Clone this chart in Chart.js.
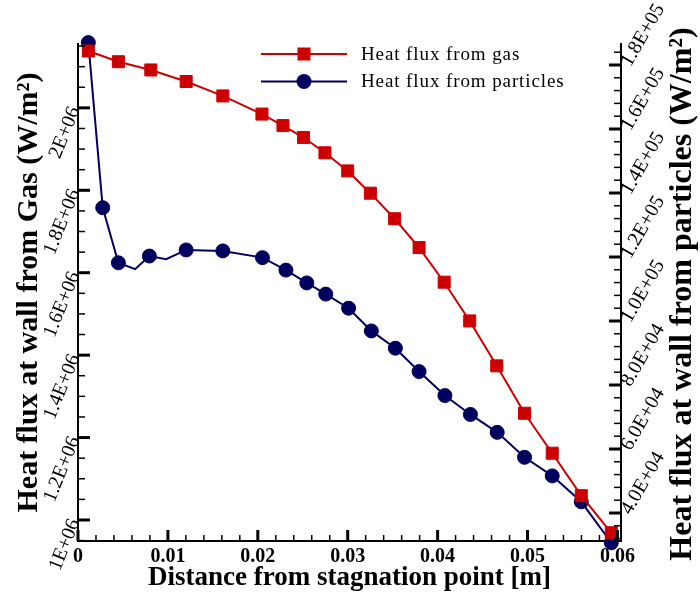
<!DOCTYPE html>
<html><head><meta charset="utf-8">
<script src="https://cdn.jsdelivr.net/npm/chart.js@4.4.1/dist/chart.umd.min.js"></script>
<style>html,body{margin:0;padding:0;background:#fff}#wrap{width:700px;height:597px;position:relative}</style>
</head><body><div id="wrap"><canvas id="c" width="700" height="597"></canvas></div>
<script>
// ---- data ----
const gasX = [0.00115,0.00449,0.0081,0.01203,0.01611,0.02046,0.0228,0.02509,0.02747,0.03,0.03252,0.03522,0.03794,0.04073,0.04357,0.04658,0.04967,0.05275,0.05598,0.05932];
const gasFlux = [2138000,2112000,2092000,2064000,2029000,1985000,1957000,1928000,1891000,1847000,1793000,1731000,1661000,1577000,1483000,1374000,1259000,1162000,1059000,969000];
const partX = [0.00115,0.00275,0.00449,0.00635,0.00794,0.0098,0.01203,0.01611,0.02052,0.02313,0.02545,0.02756,0.0301,0.03263,0.0353,0.03794,0.04081,0.04365,0.04663,0.04967,0.05275,0.05598,0.05932];
const partFlux = [187000,135400,118200,116200,120300,119300,122200,121900,119800,115900,111900,108400,104000,96900,91500,84200,76700,70800,65200,57400,51600,43500,30700];
const partUnmarked = [3,5]; // line vertices drawn without a symbol
const xTicks = [0,0.01,0.02,0.03,0.04,0.05,0.06];
const xTickLabels = ['0','0.01','0.02','0.03','0.04','0.05','0.06'];
const leftTicks = [1000000,1200000,1400000,1600000,1800000,2000000];
const leftTickLabels = ['1E+06','1.2E+06','1.4E+06','1.6E+06','1.8E+06','2E+06'];
const rightTicks = [40000,60000,80000,100000,120000,140000,160000,180000];
const rightTickLabels = ['4.0E+04','6.0E+04','8.0E+04','1.0E+05','1.2E+05','1.4E+05','1.6E+05','1.8E+05'];
const seriesNames = ['Heat flux from gas','Heat flux from particles'];
const xTitle = 'Distance from stagnation point [m]';
const leftTitle = 'Heat flux at wall from Gas (W/m\u00B2)';
const rightTitle = 'Heat flux at wall from particles (W/m\u00B2)';

const RED = '#CC0000', NAVY = '#00005E';
const SERIF = "'Liberation Serif','Times New Roman',serif";

function seg(ctx, x1, y1, x2, y2, w) {
  ctx.lineWidth = w; ctx.beginPath(); ctx.moveTo(x1, y1); ctx.lineTo(x2, y2); ctx.stroke();
}

const decor = {
  id: 'decor',
  afterDraw(chart) {
    const {ctx, chartArea: a, scales} = chart;
    ctx.save();
    ctx.strokeStyle = '#000';
    // x-axis ticks (inward): major every 0.01, minor every 0.002
    const xs = scales.x;
    for (let k = 0; k * 0.002 <= xs.max + 1e-9; k++) {
      const v = k * 0.002, major = k % 5 === 0;
      const p = xs.getPixelForValue(v);
      seg(ctx, p, a.bottom, p, a.bottom - (major ? 11 : 6), major ? 3 : 1.5);
    }
    // left axis ticks: major 0.2E6, minor 0.05E6
    const yl = scales.y;
    for (let k = Math.ceil(yl.min / 50000); k * 50000 <= yl.max; k++) {
      const major = k % 4 === 0;
      const p = yl.getPixelForValue(k * 50000);
      seg(ctx, a.left, p, a.left + (major ? 12 : 7), p, major ? 3 : 1.5);
    }
    // right axis ticks: major 2E4, minor 4E3
    const yr = scales.y2;
    for (let k = Math.ceil(yr.min / 4000); k * 4000 <= yr.max; k++) {
      const major = k % 5 === 0;
      const p = yr.getPixelForValue(k * 4000);
      seg(ctx, a.right, p, a.right - (major ? 12 : 7), p, major ? 3 : 1.5);
    }
    // right axis title (reads bottom to top)
    ctx.fillStyle = '#000';
    ctx.font = 'bold 32px ' + SERIF;
    ctx.textAlign = 'center'; ctx.textBaseline = 'middle';
    ctx.translate(683, 294);
    ctx.rotate(-Math.PI / 2);
    ctx.fillText(rightTitle, 0, 0);
    ctx.restore();

    // legend
    ctx.save();
    const rows = [{y: 54, ds: chart.data.datasets[0]}, {y: 81.5, ds: chart.data.datasets[1]}];
    rows.forEach((r, i) => {
      ctx.strokeStyle = r.ds.borderColor; ctx.lineWidth = 2;
      seg(ctx, 261, r.y, 347, r.y, 2);
      ctx.fillStyle = r.ds.borderColor;
      if (i === 0) { ctx.fillRect(304 - 6.5, r.y - 6.5, 13, 13); }
      else { ctx.beginPath(); ctx.arc(304, r.y, 7.5, 0, Math.PI * 2); ctx.fill(); }
      ctx.fillStyle = '#000';
      ctx.font = '19px ' + SERIF;
      ctx.letterSpacing = '0.9px';
      ctx.textAlign = 'left'; ctx.textBaseline = 'middle';
      ctx.fillText(seriesNames[i], 361, r.y + 1);
    });
    ctx.restore();
  }
};

new Chart(document.getElementById('c'), {
  type: 'line',
  data: {
    datasets: [
      {
        label: seriesNames[0],
        data: gasX.map((x, i) => ({x, y: gasFlux[i]})),
        yAxisID: 'y',
        borderColor: RED, backgroundColor: RED, borderWidth: 2,
        pointStyle: 'rect', pointRadius: 8.5, pointBorderWidth: 1,
        pointBackgroundColor: RED, pointBorderColor: RED,
        tension: 0, clip: false
      },
      {
        label: seriesNames[1],
        data: partX.map((x, i) => ({x, y: partFlux[i]})),
        yAxisID: 'y2',
        borderColor: NAVY, backgroundColor: NAVY, borderWidth: 2,
        pointStyle: 'circle',
        pointRadius: ctx => partUnmarked.includes(ctx.dataIndex) ? 0 : 7,
        pointBorderWidth: 1,
        pointBackgroundColor: NAVY, pointBorderColor: NAVY,
        tension: 0, clip: false
      }
    ]
  },
  options: {
    responsive: false, animation: false, devicePixelRatio: 1,
    layout: {padding: {top: 44, left: 0, right: 0, bottom: 0}},
    plugins: {legend: {display: false}, tooltip: {enabled: false}},
    scales: {
      x: {
        type: 'linear', position: 'bottom', min: 0, max: 0.0604,
        afterBuildTicks: s => { s.ticks = xTicks.map(v => ({value: v})); },
        afterFit: s => { s.height = 56; },
        ticks: {
          callback: (v, i) => xTickLabels[i], autoSkip: false, maxRotation: 0, minRotation: 0,
          padding: 4, color: '#000', font: {family: SERIF, size: 20, weight: 'bold'}
        },
        grid: {display: true, drawOnChartArea: false, drawTicks: false},
        border: {display: true, color: '#000', width: 2},
        title: {display: true, text: xTitle, color: '#000', padding: {top: 0, bottom: 3},
                font: {family: SERIF, size: 27, weight: 'bold'}}
      },
      y: {
        type: 'linear', position: 'left', min: 949000, max: 2155000,
        afterBuildTicks: s => { s.ticks = leftTicks.map(v => ({value: v})); },
        afterFit: s => { s.width = 78; },
        ticks: {
          callback: (v, i) => leftTickLabels[i], autoSkip: false, minRotation: 68, maxRotation: 68,
          padding: 3, color: '#000', font: {family: SERIF, size: 20}
        },
        grid: {display: true, drawOnChartArea: false, drawTicks: false},
        border: {display: true, color: '#000', width: 2},
        title: {display: true, text: leftTitle, color: '#000', padding: {top: 11, bottom: 0},
                font: {family: SERIF, size: 30, weight: 'bold'}}
      },
      y2: {
        type: 'linear', position: 'right', min: 31250, max: 186560,
        afterBuildTicks: s => { s.ticks = rightTicks.map(v => ({value: v})); },
        afterFit: s => { s.width = 79; },
        ticks: {
          callback: (v, i) => rightTickLabels[i], autoSkip: false, minRotation: 60, maxRotation: 60,
          padding: 5, color: '#000', font: {family: SERIF, size: 20}
        },
        grid: {display: true, drawOnChartArea: false, drawTicks: false},
        border: {display: true, color: '#000', width: 2}
      }
    }
  },
  plugins: [decor]
});
</script>
</body></html>
